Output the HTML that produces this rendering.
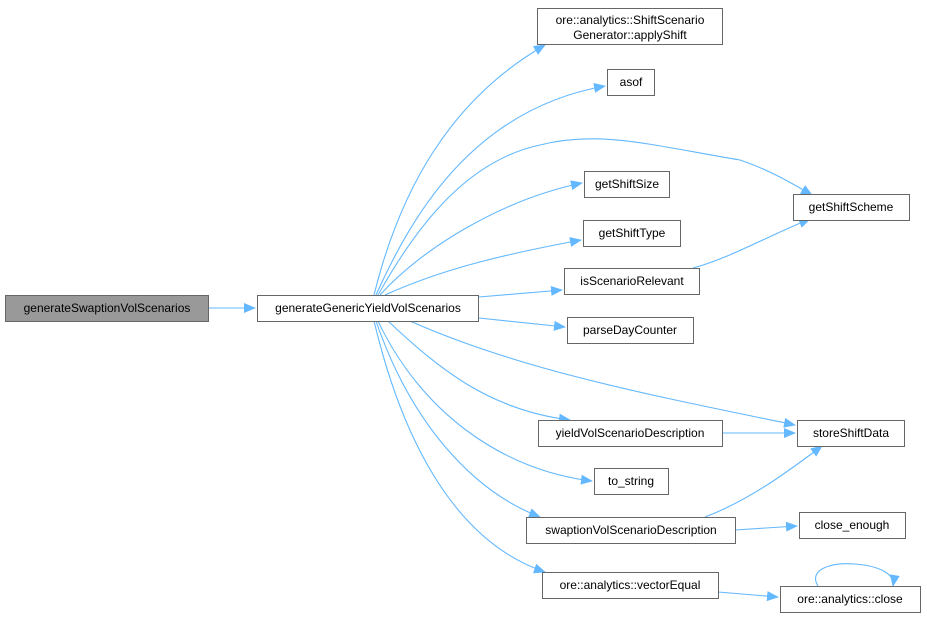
<!DOCTYPE html>
<html><head><style>
body{margin:0;background:#fff;width:927px;height:617px;overflow:hidden}
svg text{font-family:"Liberation Sans",Arial,sans-serif;font-size:12px;fill:#000}
</style></head><body>
<svg width="927" height="617" viewBox="0 0 927 617" xmlns="http://www.w3.org/2000/svg">
<defs><marker id="a" markerWidth="12" markerHeight="10" refX="11" refY="5" orient="auto" markerUnits="userSpaceOnUse"><path d="M0,0 L12,5 L0,10 z" fill="#63b8ff"/></marker></defs>
<g fill="none" stroke="#63b8ff" stroke-width="1.1" marker-end="url(#a)">
<path d="M209,308 L255,308"/>
<path d="M374,295 C400,190 450,100 545,45"/>
<path d="M376,295 C410,220 470,110 605,86"/>
<path d="M378,295 C420,220 470,160 540,145 C600,130 650,145 740,160 C770,170 795,185 812,195"/>
<path d="M380,295 C420,250 500,200 582,183"/>
<path d="M385,295 C440,270 500,255 581,240"/>
<path d="M479,297 L562,290"/>
<path d="M693,268 C730,258 770,235 810,219"/>
<path d="M479,318 L565,327"/>
<path d="M410,321 C520,370 650,395 795,425"/>
<path d="M722,433 L795,433"/>
<path d="M388,321 C440,370 490,410 570,420"/>
<path d="M378,321 C420,410 500,470 592,481"/>
<path d="M376,321 C410,420 470,490 540,517"/>
<path d="M705,517 C750,500 790,470 822,446"/>
<path d="M735,530 L797,526"/>
<path d="M374,321 C400,430 450,540 545,572"/>
<path d="M718,592 L778,597"/>
<path d="M818,586 C808,570 830,562 855,564 C880,566 895,574 893,586"/>
</g>
<g stroke="#666" stroke-width="1">
<rect x="5.5" y="295.5" width="203" height="26" fill="#999"/>
<rect x="257.5" y="295.5" width="221" height="26" fill="#fff"/>
<rect x="537.5" y="8.5" width="185" height="36" fill="#fff"/>
<rect x="607.5" y="69.5" width="47" height="26" fill="#fff"/>
<rect x="584.5" y="171.5" width="85" height="26" fill="#fff"/>
<rect x="583.5" y="220.5" width="97" height="26" fill="#fff"/>
<rect x="564.5" y="268.5" width="135" height="26" fill="#fff"/>
<rect x="793.5" y="194.5" width="116" height="26" fill="#fff"/>
<rect x="567.5" y="317.5" width="126" height="26" fill="#fff"/>
<rect x="538.5" y="420.5" width="184" height="26" fill="#fff"/>
<rect x="797.5" y="420.5" width="107" height="26" fill="#fff"/>
<rect x="594.5" y="468.5" width="74" height="26" fill="#fff"/>
<rect x="526.5" y="517.5" width="209" height="26" fill="#fff"/>
<rect x="799.5" y="512.5" width="106" height="26" fill="#fff"/>
<rect x="542.5" y="572.5" width="176" height="26" fill="#fff"/>
<rect x="780.5" y="586.5" width="140" height="26" fill="#fff"/>
</g>
<g text-anchor="middle">
<text x="107" y="312">generateSwaptionVolScenarios</text>
<text x="368" y="312">generateGenericYieldVolScenarios</text>
<text x="630" y="24">ore::analytics::ShiftScenario</text>
<text x="630" y="39">Generator::applyShift</text>
<text x="631" y="86">asof</text>
<text x="627" y="188">getShiftSize</text>
<text x="632" y="237">getShiftType</text>
<text x="632" y="285">isScenarioRelevant</text>
<text x="851" y="211">getShiftScheme</text>
<text x="630" y="334">parseDayCounter</text>
<text x="630" y="437">yieldVolScenarioDescription</text>
<text x="851" y="437">storeShiftData</text>
<text x="631" y="485">to_string</text>
<text x="631" y="534">swaptionVolScenarioDescription</text>
<text x="852" y="529">close_enough</text>
<text x="630" y="589">ore::analytics::vectorEqual</text>
<text x="850" y="603">ore::analytics::close</text>
</g>
</svg>
</body></html>
